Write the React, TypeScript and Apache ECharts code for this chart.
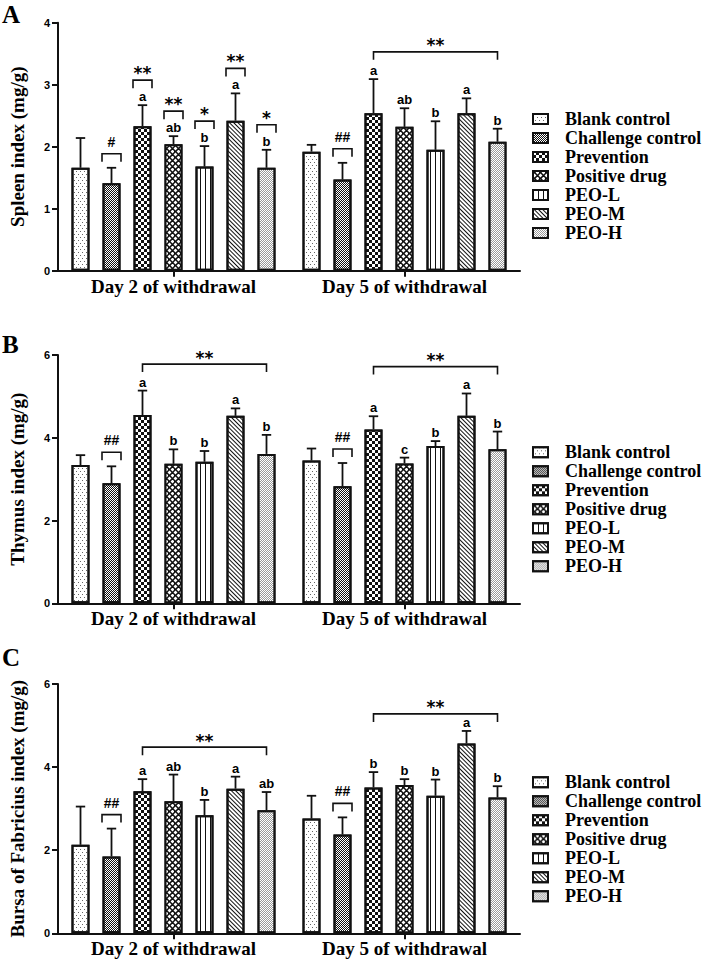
import React, { useEffect, useRef } from 'react';
import * as echarts from 'echarts';

const groups = ['Blank control', 'Challenge control', 'Prevention', 'Positive drug', 'PEO-L', 'PEO-M', 'PEO-H'];
const days = ['Day 2 of withdrawal', 'Day 5 of withdrawal'];

// Panel A – Spleen index
const spleenDay2 = [1.66, 1.41, 2.33, 2.04, 1.68, 2.42, 1.66];
const spleenDay2Err = [0.48, 0.25, 0.34, 0.13, 0.33, 0.44, 0.29];
const spleenDay5 = [1.92, 1.47, 2.54, 2.32, 1.95, 2.54, 2.08];
const spleenDay5Err = [0.11, 0.27, 0.55, 0.3, 0.46, 0.24, 0.21];
const spleenLetters2 = ['', '', 'a', 'ab', 'b', 'a', 'b'];
const spleenLetters5 = ['', '', 'a', 'ab', 'b', 'a', 'b'];
const spleenMarks2 = ['', '#', '**', '**', '*', '**', '*'];
const spleenMarks5 = ['', '##', '', '', '', '', ''];
const spleenLong = [[1, 3.53]];
const spleenTicks = [0, 1, 2, 3, 4];

// Panel B – Thymus index
const thymusDay2 = [3.34, 2.9, 4.55, 3.37, 3.42, 4.53, 3.61];
const thymusDay2Err = [0.24, 0.41, 0.59, 0.35, 0.26, 0.18, 0.46];
const thymusDay5 = [3.45, 2.83, 4.2, 3.38, 3.8, 4.53, 3.72];
const thymusDay5Err = [0.29, 0.56, 0.32, 0.14, 0.12, 0.54, 0.43];
const thymusLetters2 = ['', '', 'a', 'b', 'b', 'a', 'b'];
const thymusLetters5 = ['', '', 'a', 'c', 'b', 'a', 'b'];
const thymusMarks2 = ['', '##', '', '', '', '', ''];
const thymusMarks5 = ['', '##', '', '', '', '', ''];
const thymusLong = [[0, 5.78], [1, 5.72]];
const thymusTicks = [0, 2, 4, 6];

// Panel C – Bursa of Fabricius index
const bursaDay2 = [2.13, 1.85, 3.42, 3.18, 2.84, 3.48, 2.96];
const bursaDay2Err = [0.92, 0.67, 0.29, 0.64, 0.37, 0.29, 0.44];
const bursaDay5 = [2.76, 2.38, 3.51, 3.57, 3.31, 4.57, 3.27];
const bursaDay5Err = [0.55, 0.41, 0.37, 0.14, 0.39, 0.3, 0.27];
const bursaLetters2 = ['', '', 'a', 'ab', 'b', 'a', 'ab'];
const bursaLetters5 = ['', '', 'b', 'b', 'b', 'a', 'b'];
const bursaMarks2 = ['', '##', '', '', '', '', ''];
const bursaMarks5 = ['', '##', '', '', '', '', ''];
const bursaLong = [[0, 4.48], [1, 5.28]];
const bursaTicks = [0, 2, 4, 6];

const STEP = 31;
const BAR_W = 18;
const CAP_HALF = 4.7;
const INK = '#111';

const barFill = ['#fff', '#fff', '#fff', '#111', '#fff', '#fff', '#fff'];
const decals: any[] = [
  { symbol: 'rect', symbolSize: 1, color: '#666', backgroundColor: '#fff', dashArrayX: [[1, 3], [0, 2, 1, 1]], dashArrayY: [1, 2] },
  { symbol: 'rect', symbolSize: 1, color: '#111', backgroundColor: '#fff', dashArrayX: [[1, 1], [0, 1, 1, 0]], dashArrayY: [1, 0] },
  { symbol: 'rect', symbolSize: 1, color: '#111', backgroundColor: '#fff', dashArrayX: [[3, 3], [0, 3, 3, 0]], dashArrayY: [3, 0] },
  { symbol: 'diamond', symbolSize: 1.3, color: '#fff', dashArrayX: [[3, 3], [0, 3, 3, 0]], dashArrayY: [3, 0] },
  { symbol: 'rect', symbolSize: 1, color: '#111', backgroundColor: '#fff', dashArrayX: [1, 4], dashArrayY: [4, 0] },
  { symbol: 'rect', symbolSize: 1, color: '#111', backgroundColor: '#fff', dashArrayX: [1, 2], dashArrayY: [4, 0], rotation: -Math.PI / 4 },
  { symbol: 'rect', symbolSize: 1, color: '#9a9a9a', backgroundColor: '#fff', dashArrayX: [[1, 1], [0, 1, 1, 0]], dashArrayY: [1, 0] },
];

const panels = [
  {
    label: 'A', labelY: 14, name: 'Spleen index (mg/g)', ticks: spleenTicks, top: 22.7, height: 248, legendTop: 109.5,
    means: [spleenDay2, spleenDay5], errs: [spleenDay2Err, spleenDay5Err],
    letters: [spleenLetters2, spleenLetters5], marks: [spleenMarks2, spleenMarks5], long: spleenLong,
  },
  {
    label: 'B', labelY: 344, name: 'Thymus index (mg/g)', ticks: thymusTicks, top: 355, height: 248.3, legendTop: 442.8,
    means: [thymusDay2, thymusDay5], errs: [thymusDay2Err, thymusDay5Err],
    letters: [thymusLetters2, thymusLetters5], marks: [thymusMarks2, thymusMarks5], long: thymusLong,
  },
  {
    label: 'C', labelY: 657, name: 'Bursa of Fabricius index (mg/g)', ticks: bursaTicks, top: 684, height: 249.3, legendTop: 772.8,
    means: [bursaDay2, bursaDay5], errs: [bursaDay2Err, bursaDay5Err],
    letters: [bursaLetters2, bursaLetters5], marks: [bursaMarks2, bursaMarks5], long: bursaLong,
  },
];

function buildOption() {
  const grid: any[] = [];
  const xAxis: any[] = [];
  const yAxis: any[] = [];
  const series: any[] = [];
  const legend: any[] = [];
  const graphic: any[] = [];

  panels.forEach((cfg, p) => {
    grid.push({ left: 48, width: 472, top: cfg.top, height: cfg.height });
    xAxis.push({
      type: 'category', gridIndex: p, data: days,
      axisLine: { show: true, lineStyle: { color: INK, width: 2 } },
      axisTick: { show: true, alignWithLabel: true, length: 6, lineStyle: { color: INK, width: 2 } },
      axisLabel: { interval: 0, margin: 6, color: '#000', fontFamily: 'Liberation Serif', fontWeight: 'bold', fontSize: 19 },
      splitLine: { show: false },
    });
    const tks = cfg.ticks;
    yAxis.push({
      type: 'value', gridIndex: p, min: tks[0], max: tks[tks.length - 1], interval: tks[1] - tks[0],
      name: cfg.name, nameLocation: 'middle', nameGap: 31,
      nameTextStyle: { color: '#000', fontFamily: 'Liberation Serif', fontWeight: 'bold', fontSize: 19 },
      axisLine: { show: true, lineStyle: { color: INK, width: 2 } },
      axisTick: { show: true, length: 6, lineStyle: { color: INK, width: 2 } },
      axisLabel: { margin: 8, color: '#000', fontFamily: 'Liberation Sans', fontWeight: 'bold', fontSize: 11 },
      splitLine: { show: false },
    });

    groups.forEach((gname, g) => {
      series.push({
        type: 'bar', name: gname, xAxisIndex: p, yAxisIndex: p,
        data: [cfg.means[0][g], cfg.means[1][g]],
        barWidth: BAR_W, barGap: ((STEP - BAR_W) / BAR_W) * 100 + '%',
        itemStyle: { color: barFill[g], borderColor: INK, borderWidth: 2, decal: decals[g] },
        emphasis: { disabled: true },
        silent: true,
      });
    });

    const items: any[] = [];
    for (let d = 0; d < 2; d++) for (let g = 0; g < 7; g++) items.push([d, cfg.means[d][g], cfg.errs[d][g], g]);
    series.push({
      type: 'custom', xAxisIndex: p, yAxisIndex: p, silent: true, z: 5, clip: false,
      encode: { x: 0, y: 1 }, data: items,
      renderItem: (params: any, api: any) => {
        const d = api.value(0), mean = api.value(1), err = api.value(2), g = api.value(3);
        const b = api.coord([d, mean]);
        const t = api.coord([d, mean + err]);
        const x = b[0] + (g - 3) * STEP;
        const ls = { stroke: INK, lineWidth: 1.8 };
        const children: any[] = [
          { type: 'line', shape: { x1: x, y1: b[1], x2: x, y2: t[1] }, style: ls },
          { type: 'line', shape: { x1: x - CAP_HALF, y1: t[1], x2: x + CAP_HALF, y2: t[1] }, style: ls },
        ];
        const letter = cfg.letters[d][g];
        const mark = cfg.marks[d][g];
        if (letter) {
          children.push({ type: 'text', x, y: t[1] - 2, style: { text: letter, font: 'bold 13px "Liberation Sans"', fill: '#000', align: 'center', verticalAlign: 'bottom' } });
        }
        if (mark) {
          const ly = t[1] - (letter ? 25 : 14);
          children.push({ type: 'polyline', shape: { points: [[x - 9.5, ly + 8], [x - 9.5, ly], [x + 9.5, ly], [x + 9.5, ly + 8]] }, style: { stroke: INK, lineWidth: 1.6, fill: 'none' } });
          const isStar = mark.indexOf('*') >= 0;
          children.push({ type: 'text', x, y: isStar ? ly - 7 : ly - 12, style: { text: mark, font: isStar ? 'bold 17px "DejaVu Sans"' : 'bold 14px "Liberation Sans"', fill: '#000', align: 'center', verticalAlign: 'middle' } });
        }
        return { type: 'group', children };
      },
    });

    series.push({
      type: 'custom', xAxisIndex: p, yAxisIndex: p, silent: true, z: 5, clip: false,
      encode: { x: 0, y: 1 }, data: cfg.long,
      renderItem: (params: any, api: any) => {
        const c = api.coord([api.value(0), api.value(1)]);
        const x1 = c[0] + (2 - 3) * STEP;
        const x2 = c[0] + (6 - 3) * STEP;
        const y = c[1];
        return {
          type: 'group',
          children: [
            { type: 'polyline', shape: { points: [[x1, y + 8], [x1, y], [x2, y], [x2, y + 8]] }, style: { stroke: INK, lineWidth: 1.6, fill: 'none' } },
            { type: 'text', x: (x1 + x2) / 2, y: y - 10.5 + 4, style: { text: '**', font: 'bold 17px "DejaVu Sans"', fill: '#000', align: 'center', verticalAlign: 'middle' } },
          ],
        };
      },
    });

    legend.push({
      show: true, orient: 'vertical', left: 532, top: cfg.legendTop, padding: 0, itemGap: 0,
      itemWidth: 15, itemHeight: 10, icon: 'rect', selectedMode: false, data: groups,
      textStyle: { color: '#000', fontFamily: 'Liberation Serif', fontWeight: 'bold', fontSize: 18, lineHeight: 19, padding: [0, 0, 0, 12] },
    });

    graphic.push({
      type: 'text', x: 2, y: cfg.labelY,
      style: { text: cfg.label, font: 'bold 25px "Liberation Serif"', fill: '#000', verticalAlign: 'middle' },
    });
  });

  return { animation: false, backgroundColor: '#fff', grid, xAxis, yAxis, series, legend, graphic };
}

export default function App() {
  const ref = useRef<HTMLDivElement>(null);
  useEffect(() => {
    document.body.style.margin = '0';
    const chart = echarts.init(ref.current as HTMLDivElement, null, { renderer: 'svg' });
    chart.setOption(buildOption());
    return () => chart.dispose();
  }, []);
  return <div ref={ref} style={{ width: 708, height: 966 }} />;
}
